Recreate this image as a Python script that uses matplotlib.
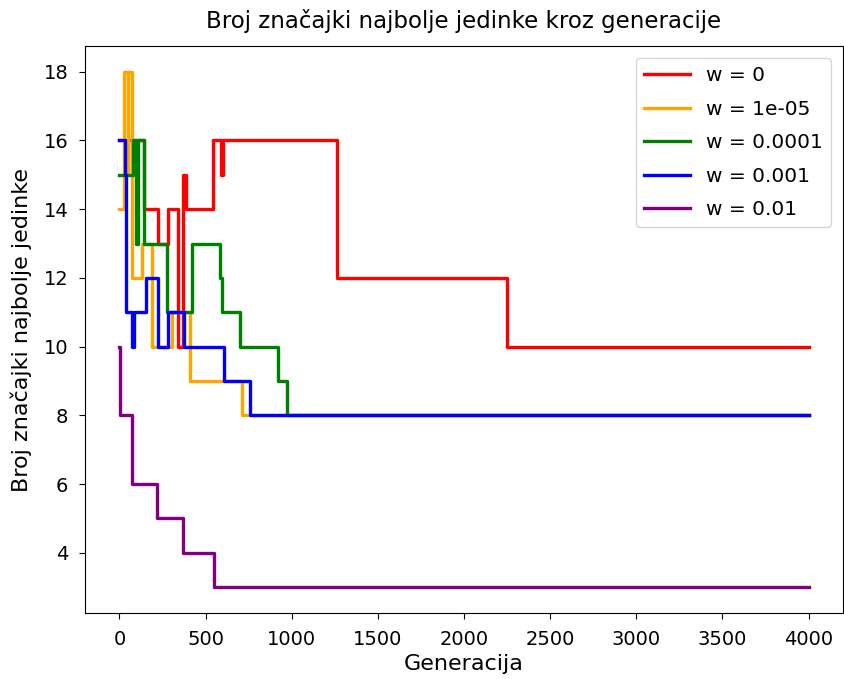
import matplotlib.pyplot as plt


# generacije u kojima se mijenja broj značajki (steps-post)
gen_w0 = [0, 145, 225, 282, 340, 370, 385, 543, 590, 600, 1264, 2251, 4000]
feat_w0 = [16, 14, 13, 14, 10, 15, 14, 16, 15, 16, 12, 10, 10]

gen_w1e5 = [0, 27, 48, 52, 72, 133, 190, 306, 410, 710, 4000]
feat_w1e5 = [14, 18, 15, 18, 12, 13, 10, 11, 9, 8, 8]

gen_w1e4 = [0, 80, 95, 105, 140, 277, 421, 583, 595, 698, 918, 975, 4000]
feat_w1e4 = [15, 16, 13, 16, 13, 11, 13, 12, 11, 10, 9, 8, 8]

gen_w1e3 = [0, 30, 40, 70, 85, 155, 225, 283, 375, 606, 756, 4000]
feat_w1e3 = [16, 15, 11, 10, 11, 12, 10, 11, 10, 9, 8, 8]

gen_w1e2 = [0, 3, 73, 219, 369, 548, 4000]
feat_w1e2 = [10, 8, 6, 5, 4, 3, 3]

series = [
    (gen_w0, feat_w0, "w = 0", "red"),
    (gen_w1e5, feat_w1e5, "w = 1e-05", "orange"),
    (gen_w1e4, feat_w1e4, "w = 0.0001", "green"),
    (gen_w1e3, feat_w1e3, "w = 0.001", "blue"),
    (gen_w1e2, feat_w1e2, "w = 0.01", "purple"),
]


def main():
    fig = plt.figure(figsize=(8.45, 6.79), dpi=100)
    ax = fig.add_axes([85 / 845, 66 / 679, 758 / 845, 567 / 679])

    for gens, feats, label, color in series:
        ax.plot(gens, feats, drawstyle="steps-post", color=color,
                linewidth=2.4, label=label)

    ax.set_title("Broj značajki najbolje jedinke kroz generacije",
                 fontsize=16.5, pad=13)
    ax.set_xlabel("Generacija", fontsize=16, labelpad=4)
    ax.set_ylabel("Broj značajki najbolje jedinke", fontsize=16, labelpad=8)
    ax.set_xticks(range(0, 4001, 500))
    ax.set_yticks(range(4, 19, 2))
    ax.tick_params(labelsize=14, length=4, pad=8)

    ax.legend(loc="upper right", fontsize=14.5, handlelength=2.3,
              labelspacing=0.72, borderaxespad=0.6)

    fig.savefig("out.png", dpi=100)
    plt.close(fig)


if __name__ == "__main__":
    main()
